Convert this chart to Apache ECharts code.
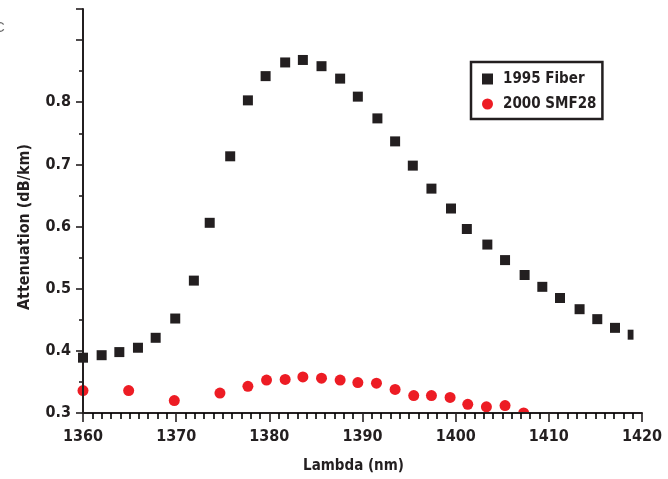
<!DOCTYPE html>
<html>
<head>
<meta charset="utf-8">
<script src="https://cdn.jsdelivr.net/npm/echarts@6/dist/echarts.min.js"></script>
<style>html,body{margin:0;padding:0;background:#fff}#c{width:668px;height:479px}</style>
</head>
<body>
<div id="c"></div>
<script>
// 1995 Fiber (black squares)
const fiberLambda = [1360,1362,1363.9,1365.9,1367.8,1369.9,1371.9,1373.6,1375.8,1377.7,1379.6,1381.7,1383.6,1385.6,1387.6,1389.5,1391.6,1393.5,1395.4,1397.4,1399.5,1401.2,1403.4,1405.3,1407.4,1409.3,1411.2,1413.3,1415.2,1417.1,1419.0];
const fiberAtten  = [0.389,0.393,0.398,0.405,0.421,0.452,0.513,0.606,0.713,0.803,0.842,0.864,0.868,0.858,0.838,0.809,0.774,0.737,0.698,0.661,0.629,0.596,0.571,0.546,0.522,0.503,0.485,0.467,0.451,0.437,0.426];
// 2000 SMF28 (red circles)
const smfLambda = [1360,1364.9,1369.8,1374.7,1377.7,1379.7,1381.7,1383.6,1385.6,1387.6,1389.5,1391.5,1393.5,1395.5,1397.4,1399.4,1401.3,1403.3,1405.3,1407.3];
const smfAtten  = [0.336,0.336,0.320,0.332,0.343,0.353,0.354,0.358,0.356,0.353,0.349,0.348,0.338,0.328,0.328,0.325,0.314,0.310,0.312,0.300];
const seriesNames = ['1995 Fiber','2000 SMF28'];
const xTitle = 'Lambda (nm)';
const yTitle = 'Attenuation (dB/km)';

const FONT = '"DejaVu Sans Condensed","Liberation Sans Narrow","DejaVu Sans",sans-serif';
const INK = '#231f20';
const zip = (a, b) => a.map((v, i) => [v, b[i]]);

const chart = echarts.init(document.getElementById('c'));
chart.setOption({
  animation: false,
  backgroundColor: '#fff',
  grid: {left: 83, right: 26, top: 9, bottom: 66},
  legend: {
    orient: 'vertical',
    left: 471, top: 62,
    padding: [9, 6, 7, 11],
    itemGap: 9,
    itemWidth: 11, itemHeight: 11,
    borderColor: INK, borderWidth: 2.5,
    backgroundColor: '#fff',
    textStyle: {fontFamily: FONT, fontWeight: 'bold', fontSize: 15, lineHeight: 16, color: INK, padding: [0,0,0,5]},
    data: seriesNames
  },
  xAxis: {
    type: 'value', min: 1360, max: 1420, interval: 10, z: 4,
    name: xTitle, nameLocation: 'middle', nameGap: 46,
    nameTextStyle: {fontFamily: FONT, fontWeight: 'bold', fontSize: 15, color: INK, padding: [0, 18, 0, 0]},
    axisLine: {show: true, lineStyle: {color: INK, width: 2}},
    axisTick: {show: true, length: 9, lineStyle: {color: INK, width: 1.6}},
    minorTick: {show: true, splitNumber: 10, length: 6, lineStyle: {color: '#000', width: 1.6}},
    axisLabel: {margin: 16, fontFamily: FONT, fontWeight: 'bold', fontSize: 16, color: INK,
                formatter: v => String(Math.round(v))},
    splitLine: {show: false}
  },
  yAxis: {
    type: 'value', min: 0.3, max: 0.95, interval: 0.1, z: 4,
    name: yTitle, nameLocation: 'middle', nameGap: 50, nameRotate: 90,
    nameTextStyle: {fontFamily: FONT, fontWeight: 'bold', fontSize: 16, color: INK, padding: [0, 32, 0, 0]},
    axisLine: {show: true, lineStyle: {color: INK, width: 2}},
    axisTick: {show: true, length: 7, lineStyle: {color: INK, width: 1.6}},
    minorTick: {show: true, splitNumber: 2, length: 4, lineStyle: {color: INK, width: 1.6}},
    axisLabel: {
      margin: 12, fontFamily: FONT, fontWeight: 'bold', fontSize: 16, color: INK,
      formatter: v => (v < 0.85 ? v.toFixed(1) : '')
    },
    splitLine: {show: false}
  },
  graphic: [
    {type: 'rect', z: 3, shape: {x: 505, y: 414, width: 40, height: 10}, style: {fill: '#fff'}},
    {type: 'rect', z: 3, shape: {x: 633.5, y: 320, width: 20, height: 30}, style: {fill: '#fff'}},
    {type: 'text', z: 5, x: -6, y: 20, style: {text: 'C', fontSize: 15, fontFamily: 'sans-serif', fill: '#666'}}
  ],
  series: [
    {name: seriesNames[0], type: 'scatter',
     symbol: 'rect', symbolSize: 10,
     itemStyle: {color: INK, opacity: 1}, data: zip(fiberLambda, fiberAtten)},
    {name: seriesNames[1], type: 'scatter',
     symbol: 'circle', symbolSize: 11,
     itemStyle: {color: '#ed1c24', opacity: 1}, data: zip(smfLambda, smfAtten)}
  ]
});
</script>
</body>
</html>
